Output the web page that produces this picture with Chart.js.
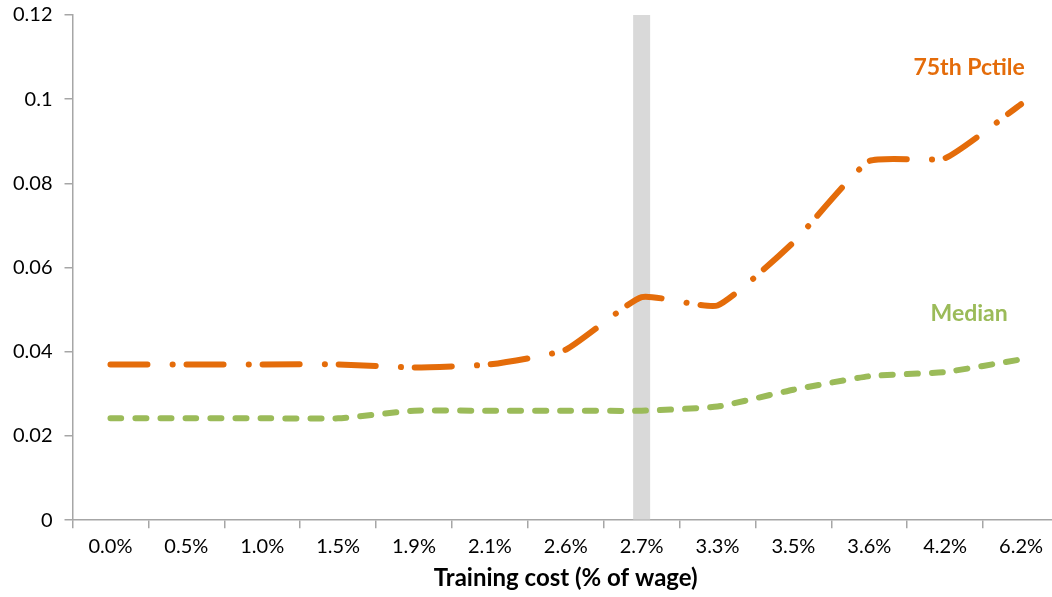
<!DOCTYPE html>
<html>
<head>
<meta charset="utf-8">
<script src="https://cdn.jsdelivr.net/npm/chart.js@4"></script>
<style>
  html, body { margin: 0; padding: 0; background: #fff; overflow: hidden; }
  #wrap { width: 1059px; height: 604px; margin-top: -9px; }
</style>
</head>
<body>
<div id="wrap"><canvas id="my-chart"></canvas></div>
<script>
'use strict';

const costLabels = ['0.0%', '0.5%', '1.0%', '1.5%', '1.9%', '2.1%', '2.6%', '2.7%', '3.3%', '3.5%', '3.6%', '4.2%', '6.2%'];
const pctile75 = [0.037, 0.037, 0.037, 0.037, 0.0363, 0.037, 0.0405, 0.053, 0.051, 0.066, 0.0853, 0.086, 0.0988];
const median = [0.0242, 0.0242, 0.0242, 0.0242, 0.026, 0.026, 0.026, 0.026, 0.027, 0.031, 0.0342, 0.0352, 0.0382];
const marker = [null, null, null, null, null, null, null, 0.12, null, null, null, null, null];
const yTicks = [0, 0.02, 0.04, 0.06, 0.08, 0.1, 0.12];

const ORANGE = '#e46c0a';
const GREEN = '#9bbb59';
const AXIS = '#a6a6a6';
const FONT = 'Lato, "Open Sans", sans-serif';

// series names written next to the lines
const seriesNotes = {
  id: 'seriesNotes',
  afterDatasetsDraw(chart) {
    const ctx = chart.ctx;
    const x = chart.scales.x;
    const y = chart.scales.y;
    const cx = (x.getPixelForValue(11) + x.getPixelForValue(12)) / 2 - 14;
    ctx.save();
    ctx.font = 'bold 23px ' + FONT;
    ctx.textAlign = 'center';
    ctx.textBaseline = 'middle';
    ctx.fillStyle = ORANGE;
    ctx.fillText('75th Pctile', cx, y.getPixelForValue(0.1075));
    ctx.fillStyle = GREEN;
    ctx.fillText('Median', cx, y.getPixelForValue(0.049));
    ctx.restore();
  }
};

const chartData = {
  type: 'line',
  data: {
    labels: costLabels,
    datasets: [{
      label: '75th Pctile',
      data: pctile75,
      borderColor: ORANGE,
      borderWidth: 6,
      borderCapStyle: 'round',
      borderDash: [37, 25, 0.1, 14],
      tension: 0.15,
      pointRadius: 0,
      fill: false,
      order: 1
    },
    {
      label: 'Median',
      data: median,
      borderColor: GREEN,
      borderWidth: 6,
      borderCapStyle: 'round',
      borderDash: [11, 14],
      tension: 0.15,
      pointRadius: 0,
      fill: false,
      order: 2
    },
    {
      type: 'bar',
      label: 'marker',
      data: marker,
      backgroundColor: '#d9d9d9',
      barPercentage: 0.224,
      categoryPercentage: 1,
      order: 3
    }]
  },
  options: {
    responsive: true,
    maintainAspectRatio: false,
    animation: false,
    layout: { padding: { left: 1, top: 0, right: 0, bottom: 2 } },
    plugins: {
      legend: { display: false },
      tooltip: { enabled: false }
    },
    scales: {
      x: {
        offset: true,
        grid: {
          offset: true,
          drawOnChartArea: false,
          color: AXIS,
          tickLength: 8,
          lineWidth: 1.5
        },
        border: { color: AXIS, width: 1.5 },
        ticks: {
          color: '#000',
          font: { family: FONT, size: 20 },
          padding: 6,
          maxRotation: 0,
          autoSkip: false
        },
        title: {
          display: true,
          text: 'Training cost (% of wage)',
          color: '#000',
          font: { family: FONT, size: 24, weight: 'bold' },
          padding: { top: 0, bottom: 0 }
        }
      },
      y: {
        min: 0,
        max: 0.12,
        afterBuildTicks(axis) {
          axis.ticks = yTicks.map(v => ({ value: v }));
        },
        grid: {
          drawOnChartArea: false,
          color: AXIS,
          tickLength: 8,
          lineWidth: 1.5
        },
        border: { color: AXIS, width: 1.5 },
        ticks: {
          color: '#000',
          font: { family: FONT, size: 20 },
          padding: 12,
          callback: v => String(v)
        }
      }
    }
  },
  plugins: [seriesNotes]
};

new Chart(document.getElementById('my-chart').getContext('2d'), chartData);
</script>
</body>
</html>
